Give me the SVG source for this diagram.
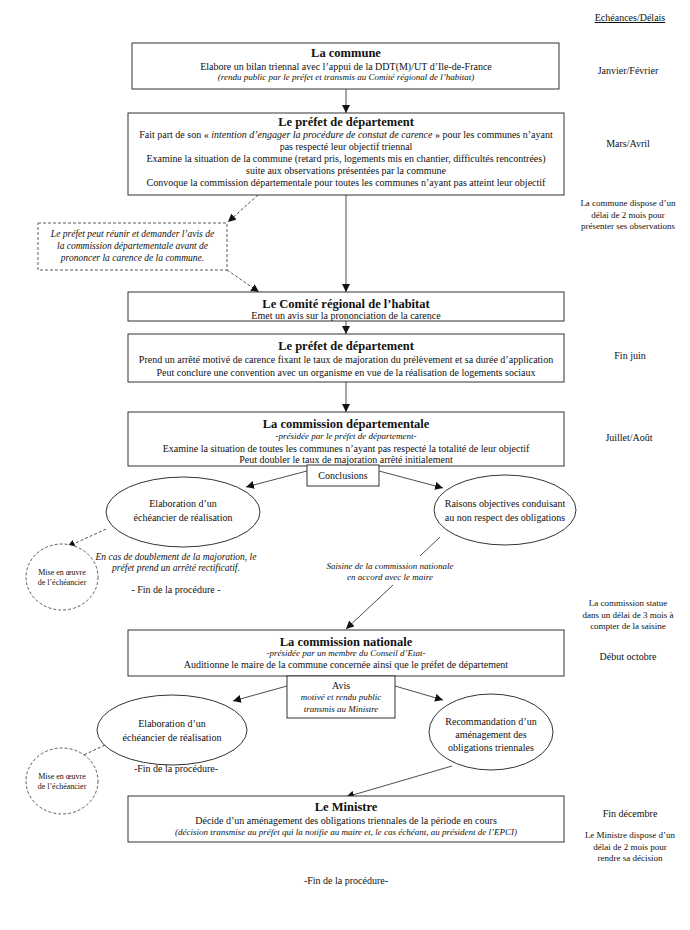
<svg xmlns="http://www.w3.org/2000/svg" width="690" height="930" viewBox="0 0 690 930">
<style>
text{font-family:"Liberation Serif","Times New Roman",serif;fill:#111;text-anchor:middle}
.t{font-size:12.5px;font-weight:bold}
.b{font-size:10px}
.i{font-size:9px;font-style:italic}
.s{font-size:9px}
.box{fill:#fff;stroke:#333;stroke-width:1}
.dash{fill:#fff;stroke:#333;stroke-width:0.8;stroke-dasharray:3,2}
.ln{stroke:#222;stroke-width:0.8;fill:none}
.dl{stroke:#222;stroke-width:0.8;fill:none;stroke-dasharray:3,2}
</style>
<defs>
<marker id="ah" viewBox="0 0 10 10" refX="10" refY="5" markerWidth="8" markerHeight="8" markerUnits="userSpaceOnUse" orient="auto">
<path d="M0,0 L10,5 L0,10 z" fill="#111"/>
</marker>
</defs>
<rect width="690" height="930" fill="#fff"/>

<g id="connectors">
<line class="ln" x1="346" y1="89" x2="346" y2="113" marker-end="url(#ah)"/>
<line class="ln" x1="346" y1="195" x2="346" y2="292" marker-end="url(#ah)"/>
<line class="dl" x1="258" y1="195" x2="228" y2="222" marker-end="url(#ah)"/>
<line class="dl" x1="227" y1="270" x2="259" y2="292" marker-end="url(#ah)"/>
<line class="ln" x1="346" y1="321" x2="346" y2="334" marker-end="url(#ah)"/>
<line class="ln" x1="346" y1="382" x2="346" y2="412" marker-end="url(#ah)"/>
<line class="ln" x1="307" y1="471" x2="246" y2="487" marker-end="url(#ah)"/>
<line class="ln" x1="379" y1="471" x2="443" y2="488" marker-end="url(#ah)"/>
<line class="dl" x1="106" y1="529" x2="67" y2="547" marker-end="url(#ah)"/>
<line class="ln" x1="440" y1="537" x2="420" y2="556"/>
<line class="ln" x1="393" y1="585" x2="346" y2="629" marker-end="url(#ah)"/>
<line class="ln" x1="287" y1="686" x2="233" y2="701" marker-end="url(#ah)"/>
<line class="ln" x1="395" y1="686" x2="443" y2="700" marker-end="url(#ah)"/>
<line class="dl" x1="105" y1="745" x2="67" y2="763" marker-end="url(#ah)"/>
<line class="ln" x1="452" y1="766" x2="346" y2="797" marker-end="url(#ah)"/>
</g>

<g id="echeances">
<text class="b" x="630" y="21" text-decoration="underline">Echéances/Délais</text>
<text class="b" x="628" y="73.5">Janvier/Février</text>
<text class="b" x="628" y="146.5">Mars/Avril</text>
<text class="s" x="628" y="206">La commune dispose d’un</text>
<text class="s" x="628" y="217.5">délai de 2 mois pour</text>
<text class="s" x="628" y="229">présenter ses observations</text>
<text class="b" x="630" y="358.5">Fin juin</text>
<text class="b" x="629" y="440.5">Juillet/Août</text>
<text class="s" x="628" y="606">La commission statue</text>
<text class="s" x="628" y="617.5">dans un délai de 3 mois à</text>
<text class="s" x="628" y="629">compter de la saisine</text>
<text class="b" x="628" y="659.5">Début octobre</text>
<text class="b" x="630" y="816.5">Fin décembre</text>
<text class="s" x="630" y="838">Le Ministre dispose d’un</text>
<text class="s" x="630" y="849.5">délai de 2 mois pour</text>
<text class="s" x="630" y="861">rendre sa décision</text>
</g>

<g id="commune">
<rect class="box" x="132" y="43" width="427" height="46"/>
<text class="t" x="346" y="57">La commune</text>
<text class="b" x="346" y="69.5">Elabore un bilan triennal avec l’appui de la DDT(M)/UT d’Ile-de-France</text>
<text class="i" x="346" y="80">(rendu public par le préfet et transmis au Comité régional de l’habitat)</text>
</g>

<g id="prefet1">
<rect class="box" x="128" y="113" width="436" height="82"/>
<text class="t" x="346" y="125.5">Le préfet de département</text>
<text class="b" x="346" y="137.5">Fait part de son « <tspan font-style="italic">intention d’engager la procédure de constat de carence</tspan> » pour les communes n’ayant</text>
<text class="b" x="346" y="149.5">pas respecté leur objectif triennal</text>
<text class="b" x="346" y="161.5">Examine la situation de la commune (retard pris, logements mis en chantier, difficultés rencontrées)</text>
<text class="b" x="346" y="173.5">suite aux observations présentées par la commune</text>
<text class="b" x="346" y="185.5">Convoque la commission départementale pour toutes les communes n’ayant pas atteint leur objectif</text>
</g>

<g id="note-prefet">
<rect class="dash" x="38" y="223" width="189" height="47"/>
<text class="i" style="font-size:9.5px" x="132.5" y="237">Le préfet peut réunir et demander l’avis de</text>
<text class="i" style="font-size:9.5px" x="132.5" y="249">la commission départementale avant de</text>
<text class="i" style="font-size:9.5px" x="132.5" y="261">prononcer la carence de la commune.</text>
</g>

<g id="comite">
<rect class="box" x="128" y="292" width="436" height="29"/>
<text class="t" x="346" y="307.5">Le Comité régional de l’habitat</text>
<text class="b" x="346" y="319">Emet un avis sur la prononciation de la carence</text>
</g>

<g id="prefet2">
<rect class="box" x="128" y="334" width="436" height="48"/>
<text class="t" x="346" y="350">Le préfet de département</text>
<text class="b" x="346" y="362.5">Prend un arrêté motivé de carence fixant le taux de majoration du prélèvement et sa durée d’application</text>
<text class="b" x="346" y="375.5">Peut conclure une convention avec un organisme en vue de la réalisation de logements sociaux</text>
</g>

<g id="commission-dep">
<rect class="box" x="128" y="412" width="436" height="54"/>
<text class="t" x="346" y="427.5">La commission départementale</text>
<text class="i" x="346" y="439">-présidée par le préfet de département-</text>
<text class="b" x="346" y="451.5">Examine la situation de toutes les communes n’ayant pas respecté la totalité de leur objectif</text>
<text class="b" x="346" y="462.5">Peut doubler le taux de majoration arrêté initialement</text>
</g>

<g id="conclusions">
<rect class="box" x="307" y="465" width="72" height="21"/>
<text class="b" x="343" y="479">Conclusions</text>
</g>

<g id="echeancier1">
<ellipse class="box" cx="183" cy="512" rx="77" ry="35"/>
<text class="b" x="183" y="506.5">Elaboration d’un</text>
<text class="b" x="183" y="520.5">échéancier de réalisation</text>
</g>

<g id="raisons">
<ellipse class="box" cx="505" cy="510" rx="71" ry="35"/>
<text class="b" x="505" y="506.5">Raisons objectives conduisant</text>
<text class="b" x="505" y="520.5">au non respect des obligations</text>
</g>

<g id="mise1">
<ellipse class="dash" cx="62" cy="577" rx="36" ry="33"/>
<text class="s" style="font-size:8px" x="62" y="575">Mise en œuvre</text>
<text class="s" style="font-size:8px" x="62" y="585">de l’échéancier</text>
</g>

<g id="note-doublement">
<text class="i" style="font-size:9.5px" x="176" y="560">En cas de doublement de la majoration, le</text>
<text class="i" style="font-size:9.5px" x="176" y="571">préfet prend un arrêté rectificatif.</text>
<text class="b" x="176" y="593">- Fin de la procédure -</text>
</g>

<g id="saisine">
<text class="i" x="390" y="569">Saisine de la commission nationale</text>
<text class="i" x="390" y="580">en accord avec le maire</text>
</g>

<g id="commission-nat">
<rect class="box" x="128" y="630" width="436" height="46"/>
<text class="t" x="346" y="645.5">La commission nationale</text>
<text class="i" x="346" y="655.5">-présidée par un membre du Conseil d’Etat-</text>
<text class="b" x="346" y="667.5">Auditionne le maire de la commune concernée ainsi que le préfet de département</text>
</g>

<g id="avis">
<rect class="box" x="287" y="676" width="108" height="42"/>
<text class="b" x="341" y="688.5">Avis</text>
<text class="i" x="341" y="700">motivé et rendu public</text>
<text class="i" x="341" y="712">transmis au Ministre</text>
</g>

<g id="echeancier2">
<ellipse class="box" cx="172" cy="730" rx="75" ry="35"/>
<text class="b" x="172" y="726.5">Elaboration d’un</text>
<text class="b" x="172" y="740.5">échéancier de réalisation</text>
</g>

<g id="recommandation">
<ellipse class="box" cx="491" cy="732" rx="62" ry="38"/>
<text class="b" x="491" y="724.5">Recommandation d’un</text>
<text class="b" x="491" y="737.5">aménagement des</text>
<text class="b" x="491" y="750.5">obligations triennales</text>
</g>

<g id="fin2">
<text class="b" x="176" y="771.5">-Fin de la procédure-</text>
</g>

<g id="mise2">
<ellipse class="dash" cx="62" cy="781" rx="36" ry="33"/>
<text class="s" style="font-size:8px" x="62" y="779">Mise en œuvre</text>
<text class="s" style="font-size:8px" x="62" y="789">de l’échéancier</text>
</g>

<g id="ministre">
<rect class="box" x="128" y="796" width="436" height="46"/>
<text class="t" x="346" y="810.5">Le Ministre</text>
<text class="b" x="346" y="823.5">Décide d’un aménagement des obligations triennales de la période en cours</text>
<text class="i" x="346" y="834.5">(décision transmise au préfet qui la notifie au maire et, le cas échéant, au président de l’EPCI)</text>
</g>

<g id="fin3">
<text class="b" x="346" y="883.5">-Fin de la procédure-</text>
</g>
</svg>
